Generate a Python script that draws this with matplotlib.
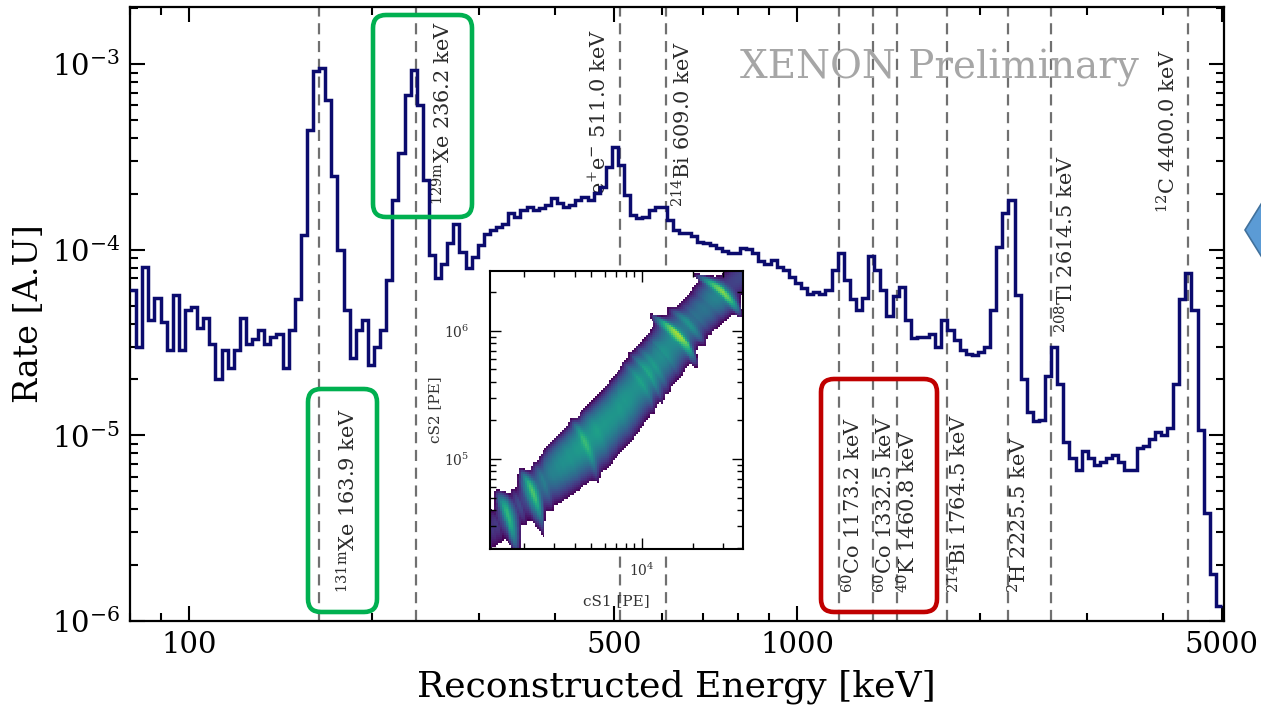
import numpy as np
import matplotlib
matplotlib.use("Agg")
import matplotlib.pyplot as plt
from matplotlib.colors import Normalize
from matplotlib.patches import FancyBboxPatch, Polygon
from matplotlib.ticker import LogLocator, NullFormatter
from matplotlib.transforms import IdentityTransform

plt.rcParams['font.family'] = 'DejaVu Serif'
plt.rcParams['mathtext.fontset'] = 'dejavuserif'
plt.rcParams['axes.unicode_minus'] = False

# energy spectrum: log bins from 80 keV to 5 MeV, rate in units of 1e-5
e_min, e_max = 80.0, 5000.0
rate_e5 = [
    6.1, 3.0, 8.1, 4.2, 5.5, 4.1, 2.9, 5.7, 2.9, 4.75,
    4.9, 3.8, 4.3, 3.1, 2.0, 2.9, 2.3, 2.9, 4.3, 3.1,
    3.3, 3.7, 3.1, 3.4, 3.5, 2.3, 3.7, 5.4, 12.0, 44.0,
    92.0, 95.0, 64.0, 25.0, 10.0, 4.75, 2.6, 3.7, 4.2, 2.4,
    3.0, 3.7, 6.9, 18.5, 33.0, 68.0, 93.0, 60.0, 23.7, 9.4,
    7.0, 8.4, 10.9, 13.8, 9.7, 8.0, 9.1, 10.6, 12.2, 12.8,
    13.2, 13.8, 15.8, 15.0, 16.4, 17.0, 16.4, 16.8, 17.4, 18.9,
    17.8, 17.0, 17.4, 18.5, 19.2, 18.5, 20.2, 21.7, 27.9, 35.7,
    28.5, 19.8, 15.4, 14.8, 15.0, 16.4, 17.0, 17.0, 14.5, 12.8,
    12.3, 12.3, 11.8, 11.0, 10.9, 10.6, 10.2, 9.8, 9.6, 9.6,
    10.2, 10.1, 9.6, 8.7, 8.4, 8.8, 8.1, 7.8, 7.1, 6.6,
    6.2, 5.8, 5.9, 5.8, 6.1, 7.8, 9.6, 6.9, 5.4, 4.75,
    5.5, 9.3, 7.8, 6.1, 4.4, 5.6, 6.3, 4.2, 3.35, 3.4,
    3.4, 3.5, 3.0, 4.2, 3.7, 3.27, 2.9, 2.75, 2.7, 2.8,
    3.0, 4.75, 10.4, 15.8, 18.5, 5.7, 2.0, 1.33, 1.19, 1.21,
    2.1, 3.0, 1.9, 0.92, 0.76, 0.65, 0.82, 0.76, 0.69, 0.72,
    0.76, 0.78, 0.72, 0.65, 0.65, 0.85, 0.88, 0.96, 1.04, 1.0,
    1.09, 1.9, 5.4, 7.5, 4.75, 1.07, 0.38, 0.18, 0.12,
]

# gamma lines
line_energy = [163.9, 236.2, 511.0, 609.0, 1173.2, 1332.5, 1460.8,
               1764.5, 2225.5, 2614.5, 4400.0]
line_label = [
    r"$^{131\mathrm{m}}$Xe 163.9 keV",
    r"$^{129\mathrm{m}}$Xe 236.2 keV",
    r"e$^{+}$e$^{-}$ 511.0 keV",
    r"$^{214}$Bi 609.0 keV",
    r"$^{60}$Co 1173.2 keV",
    r"$^{60}$Co 1332.5 keV",
    r"$^{40}$K 1460.8 keV",
    r"$^{214}$Bi 1764.5 keV",
    r"$^{2}$H 2225.5 keV",
    r"$^{208}$Tl 2614.5 keV",
    r"$^{12}$C 4400.0 keV",
]
# label placement: bottom of text (data y) and sideways shift in pixels
label_y = [1.42e-6, 1.74e-4, 1.97e-4, 1.70e-4, 1.42e-6, 1.42e-6, 1.42e-6,
           1.42e-6, 1.42e-6, 3.56e-5, 1.58e-4]
label_dx = [28, 27, -21, 17, 14, 12, 11, 12, 11, 15, -20]

# cS1/cS2 band: centre charge fraction and half width vs energy, detector gains
band_energy = [164, 243, 350, 547, 816, 1852, 2248, 4380]
band_frac = [0.22, 0.235, 0.256, 0.27, 0.295, 0.39, 0.42, 0.46]
band_halfwidth = [0.15, 0.15, 0.16, 0.17, 0.18, 0.2, 0.2, 0.19]
g1, g2, w_eff = 0.144, 11.5, 0.01147

rate = np.array(rate_e5) * 1e-5
edges = np.geomspace(e_min, e_max, len(rate) + 1)
centers = np.sqrt(edges[:-1] * edges[1:])

W, H = 1261, 709
fig = plt.figure(figsize=(W / 100, H / 100), dpi=100)
ax = fig.add_axes([0.1031, 0.1241, 0.8672, 0.8660])

for e in line_energy:
    ax.axvline(e, color='#707070', ls=(0, (5, 3)), lw=1.6, zorder=1)

ax.stairs(rate, edges, baseline=None, color='#0b0b6e', lw=2.5, zorder=3)

for e, lab, y, dx in zip(line_energy, line_label, label_y, label_dx):
    ax.annotate(lab, xy=(e, y), xytext=(dx, 0), textcoords='offset pixels',
                rotation=90, ha='center', va='bottom', fontsize=15,
                color='#2b2b2b', zorder=2)

ax.set_xscale('log')
ax.set_yscale('log')
ax.set_xlim(80, 5030)
ax.set_ylim(1e-6, 2.03e-3)
ax.set_xticks([100, 500, 1000, 5000], labels=['100', '500', '1000', '5000'])
ax.xaxis.set_minor_locator(LogLocator(base=10, subs=np.arange(2, 10)))
ax.xaxis.set_minor_formatter(NullFormatter())
ax.yaxis.set_minor_locator(LogLocator(base=10, subs=np.arange(2, 10)))
ax.tick_params(which='both', direction='in', top=True, right=True,
               width=1.5, labelsize=21)
ax.tick_params(which='major', length=11, pad=7)
ax.tick_params(which='minor', length=6)
for sp in ax.spines.values():
    sp.set_linewidth(1.6)
ax.set_xlabel('Reconstructed Energy [keV]', fontsize=26, labelpad=8)
ax.set_ylabel('Rate [A.U]', fontsize=24, labelpad=5)

fig.text(939 / W, 1 - 68 / H, 'XENON Preliminary', fontsize=28,
         color='#a6a6a6', ha='center', va='center', zorder=0)

# inset: cS2 vs cS1 band, brightness follows the spectrum above
ins = fig.add_axes([490 / W, 1 - 549 / H, 253 / W, 278 / H], zorder=5)
s1_edges = np.geomspace(1260, 39600, 131)
s2_edges = np.geomspace(19800, 2.94e6, 141)
s1c = np.sqrt(s1_edges[:-1] * s1_edges[1:])
s2c = np.sqrt(s2_edges[:-1] * s2_edges[1:])
S1, S2 = np.meshgrid(s1c, s2c)
q1, q2 = S1 / g1, S2 / g2
energy = w_eff * (q1 + q2)
frac = q2 / (q1 + q2)
log_e = np.log(energy)
frac_c = np.interp(log_e, np.log(band_energy), band_frac)
half_w = np.interp(log_e, np.log(band_energy), band_halfwidth)
lv = np.log10(np.interp(log_e, np.log(centers), rate) * energy) + 1
level = np.where(lv > 0, 0.56 + 0.5 * lv, 0.56 + 0.3 * lv)
shade = level - ((frac - frac_c) / half_w) ** 2
shade = np.ma.masked_less(shade, 0.0)
ins.pcolormesh(s1_edges, s2_edges, shade, cmap='viridis',
               norm=Normalize(0, 1), rasterized=True)
ins.set_xscale('log')
ins.set_yscale('log')
ins.set_xlim(1260, 39600)
ins.set_ylim(19800, 2.94e6)
ins.set_xticks([1e4])
ins.set_yticks([1e5, 1e6])
ins.xaxis.set_minor_locator(LogLocator(base=10, subs=np.arange(2, 10)))
ins.yaxis.set_minor_locator(LogLocator(base=10, subs=np.arange(2, 10)))
ins.xaxis.set_minor_formatter(NullFormatter())
ins.yaxis.set_minor_formatter(NullFormatter())
ins.tick_params(which='both', direction='in', top=True, right=True,
                labelsize=10, labelcolor='#333333', width=1.0)
ins.tick_params(which='major', length=8)
ins.tick_params(axis='x', which='major', pad=9)
ins.tick_params(axis='y', which='major', pad=15)
ins.tick_params(which='minor', length=4)
for sp in ins.spines.values():
    sp.set_linewidth(1.5)
ins.set_xlabel('cS1 [PE]', fontsize=11, color='#333333', labelpad=11)
ins.set_ylabel('cS2 [PE]', fontsize=11, color='#333333', labelpad=1)

# highlight frames
frames = [((373, 15, 472, 217), '#00b050'),
          ((308, 389, 377, 612), '#00b050'),
          ((821, 379, 937, 612), '#c00000')]
for (x0, y0, x1, y1), col in frames:
    fig.add_artist(FancyBboxPatch(
        (x0, H - y1), x1 - x0, y1 - y0,
        boxstyle='round,pad=0,rounding_size=13', fill=False,
        edgecolor=col, lw=3.3, transform=IdentityTransform(), zorder=10))

fig.add_artist(Polygon([(1245, H - 230), (1263, H - 201), (1263, H - 259)],
                       closed=True, facecolor='#5b9bd5', edgecolor='#41719c',
                       lw=1.2, transform=IdentityTransform(), zorder=10))

fig.savefig('out.png', dpi=100)
